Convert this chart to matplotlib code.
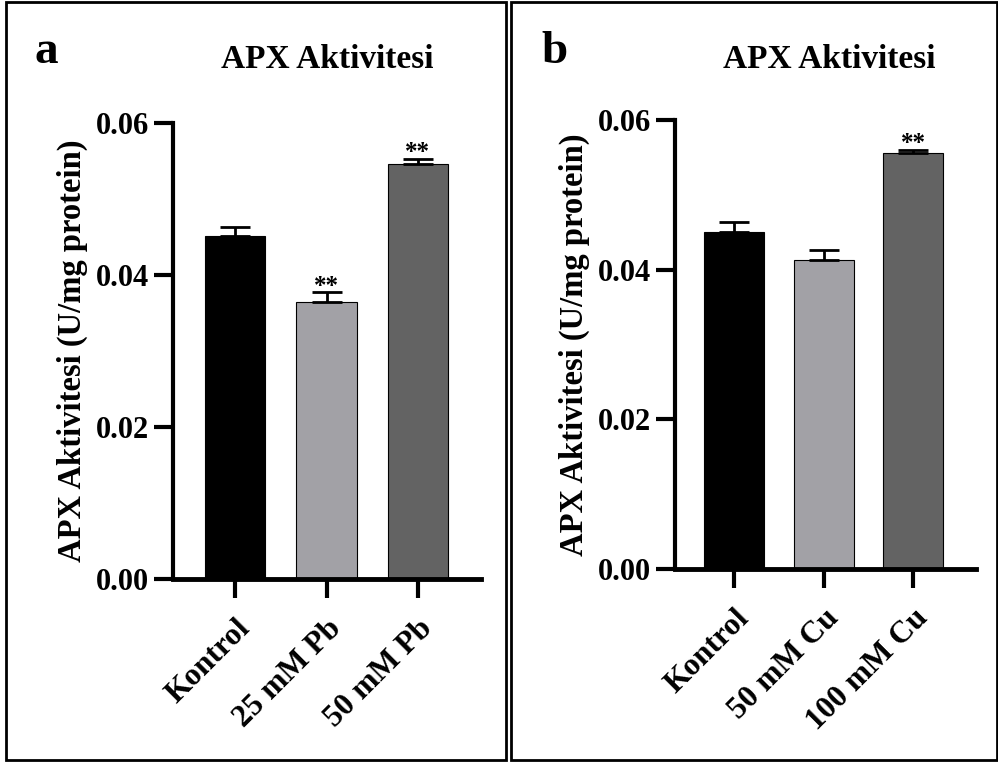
import matplotlib
matplotlib.use('Agg')
from matplotlib import pyplot as plt
from matplotlib.patches import Rectangle

plt.rcParams['font.family'] = ['Liberation Serif', 'DejaVu Serif']
plt.rcParams['font.weight'] = 'bold'

# data
groups_pb = ['Kontrol', '25 mM Pb', '50 mM Pb']
apx_pb = [0.0451, 0.0365, 0.0546]
err_pb = [0.0012, 0.0012, 0.0007]
sig_pb = ['', '**', '**']

groups_cu = ['Kontrol', '50 mM Cu', '100 mM Cu']
apx_cu = [0.0451, 0.0413, 0.0556]
err_cu = [0.0013, 0.0013, 0.0004]
sig_cu = ['', '', '**']

bar_colors = ['#000000', '#a2a1a6', '#636363']
yticks = [0.00, 0.02, 0.04, 0.06]

W, H = 998, 762
fig = plt.figure(figsize=(W / 100, H / 100), dpi=100)

# panel frames
for x0, x1 in [(6, 506), (511, 997)]:
    fig.patches.append(Rectangle((x0 / W, 2 / H), (x1 - x0) / W, (H - 4) / H,
                                 transform=fig.transFigure, fill=False,
                                 edgecolor='black', linewidth=2))


def draw_panel(rect, groups, vals, errs, sigs, letter, letter_x, title_x, xlim, bw):
    ax = fig.add_axes(rect)
    x = list(range(len(groups)))
    ax.bar(x, vals, width=bw, color=bar_colors, edgecolor='black', linewidth=0.8, zorder=2)
    ax.errorbar(x, vals, yerr=[[0] * len(errs), errs], fmt='none', ecolor='black',
                elinewidth=2, capsize=11, capthick=2, zorder=3)
    for xi, v, e, s in zip(x, vals, errs, sigs):
        if s:
            ax.text(xi, v + e - 0.0007, s, ha='center', va='bottom', fontsize=18,
                    fontweight='bold')
    ax.set_xlim(xlim)
    ax.set_ylim(0, 0.06)
    ax.set_yticks(yticks)
    ax.set_yticklabels(['%.2f' % t for t in yticks], fontsize=22, fontweight='bold')
    ax.set_xticks(x)
    ax.set_xticklabels(groups, fontsize=22.5, fontweight='bold', rotation=45,
                       ha='right', va='top', rotation_mode='anchor')
    ax.spines['top'].set_visible(False)
    ax.spines['right'].set_visible(False)
    ax.spines['left'].set_linewidth(3)
    ax.spines['bottom'].set_linewidth(3.5)
    ax.tick_params(axis='both', length=14, width=3, pad=3)
    ax.tick_params(axis='x', pad=11)
    ax.set_ylabel('APX Aktivitesi (U/mg protein)', fontsize=23.5, fontweight='bold', labelpad=6)
    fig.text(title_x / W, 1 - 60 / H, 'APX Aktivitesi', ha='center', va='center',
             fontsize=24, fontweight='bold')
    fig.text(letter_x / W, 1 - 63 / H, letter, ha='left', va='baseline',
             fontsize=34, fontweight='bold')
    return ax


draw_panel([173 / W, (H - 579) / H, (481 - 173) / W, (579 - 123) / H],
           groups_pb, apx_pb, err_pb, sig_pb, 'a', 34, 327, (-0.68, 2.69), 0.66)
draw_panel([675 / W, (H - 569) / H, (976 - 675) / W, (569 - 120) / H],
           groups_cu, apx_cu, err_cu, sig_cu, 'b', 541, 829, (-0.66, 2.70), 0.67)

plt.savefig('out.png', dpi=100)
